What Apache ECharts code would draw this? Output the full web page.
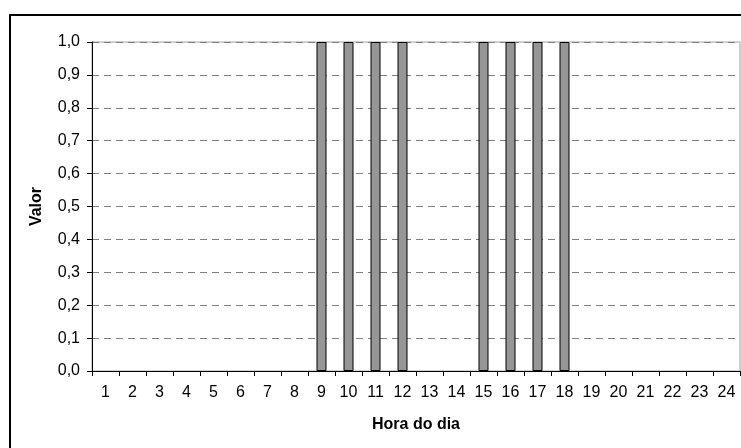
<!DOCTYPE html>
<html>
<head>
<meta charset="utf-8">
<script src="https://cdn.jsdelivr.net/npm/echarts@6/dist/echarts.min.js"></script>
<style>html,body{margin:0;padding:0;background:#fff}#c{width:741px;height:448px}</style>
</head>
<body>
<div id="c"></div>
<script>
var hours = ['1','2','3','4','5','6','7','8','9','10','11','12','13','14','15','16','17','18','19','20','21','22','23','24'];
var values = [0,0,0,0,0,0,0,0,1,1,1,1,0,0,1,1,1,1,0,0,0,0,0,0];
var xTitle = 'Hora do dia';
var yTitle = 'Valor';

var chart = echarts.init(document.getElementById('c'), null, {renderer:'canvas'});
var font = 'Arial, "Liberation Sans", sans-serif';
var barData = values.map(function(v){
  return v === 0 ? {value: v, itemStyle: {borderWidth: 0, opacity: 0}} : {value: v};
});
chart.setOption({
  animation: false,
  backgroundColor: '#fff',
  grid: {left: 92, right: 1, top: 42, bottom: 77, show: true, borderColor: '#a0a0a0', borderWidth: 1, backgroundColor: 'transparent'},
  graphic: [{
    type: 'rect', shape: {x: 10, y: 15, width: 900, height: 600},
    style: {fill: 'none', stroke: '#000', lineWidth: 2}, z: 100, silent: true
  }],
  xAxis: {
    type: 'category', data: hours,
    name: xTitle, nameLocation: 'middle', nameGap: 46,
    nameTextStyle: {fontFamily: font, fontSize: 16, fontWeight: 'bold', color: '#000'},
    axisLine: {lineStyle: {color: '#000', width: 1}},
    axisTick: {show: true, length: 5, alignWithLabel: false, lineStyle: {color: '#000'}},
    axisLabel: {fontFamily: font, fontSize: 16, color: '#000', margin: 14, interval: 0},
    splitLine: {show: false}
  },
  yAxis: {
    type: 'value', min: 0, max: 1, interval: 0.1,
    name: yTitle, nameLocation: 'middle', nameGap: 47, nameRotate: 90,
    nameTextStyle: {fontFamily: font, fontSize: 16, fontWeight: 'bold', color: '#000'},
    axisLine: {show: true, lineStyle: {color: '#000', width: 1}},
    axisTick: {show: true, length: 5, lineStyle: {color: '#000'}},
    axisLabel: {fontFamily: font, fontSize: 16, color: '#000', margin: 12,
      formatter: function(v){ return v.toFixed(1).replace('.', ','); }},
    splitLine: {show: true, lineStyle: {color: '#808080', type: [7,5], width: 1}}
  },
  series: [{
    type: 'bar', data: barData, barWidth: 10,
    itemStyle: {color: '#969696', borderColor: '#000', borderWidth: 1}
  }]
});
</script>
</body>
</html>
